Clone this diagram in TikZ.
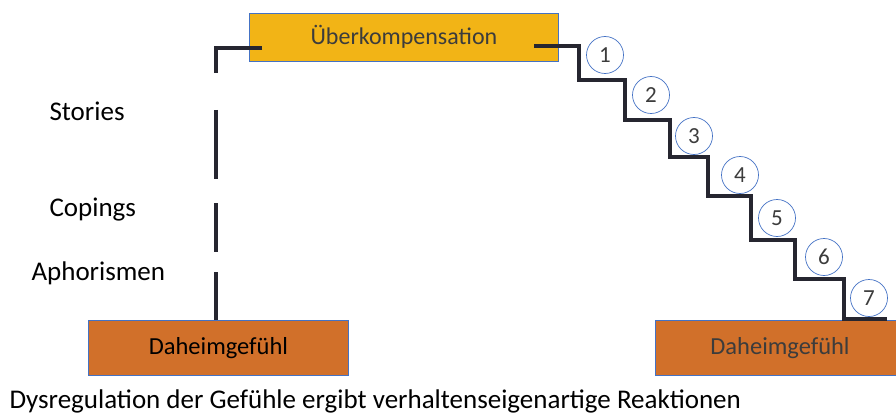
\documentclass[tikz,border=0pt]{standalone}
\usepackage{fontspec}
\setmainfont{Carlito}
\usetikzlibrary{calc}
\definecolor{boxgold}{RGB}{242,180,22}
\definecolor{boxrust}{RGB}{209,112,42}
\definecolor{edgeblue}{RGB}{68,114,196}
\definecolor{stairink}{RGB}{38,38,48}
\definecolor{greytext}{RGB}{60,60,60}
\tikzset{
  panel/.style={draw=edgeblue, line width=0.8pt, inner sep=0pt, anchor=north west},
  stairline/.style={draw=stairink, line width=4.6pt, line join=miter},
  stepnum/.style={circle, draw=edgeblue, line width=0.7pt, minimum size=37pt, inner sep=0pt,
                  font=\fontsize{23}{23}\selectfont, text=greytext},
  sidelabel/.style={font=\fontsize{27}{30}\selectfont, text=black, anchor=west},
}
\begin{document}
\begin{tikzpicture}[x=1pt, y=-1pt]
  \useasboundingbox (0,0) rectangle (896,417);
  \clip (0,0) rectangle (896,417);

  % boxes
  \node[panel, fill=boxgold, minimum width=309pt, minimum height=48pt] (top) at (249,13) {};
  \node[font=\fontsize{24}{26}\selectfont, text=greytext] at ($(top.center)+(0,-1)$) {Überkompensation};

  \node[panel, fill=boxrust, minimum width=260pt, minimum height=55pt] (homeL) at (88,320) {};
  \node[font=\fontsize{24.5}{26}\selectfont, text=black] at (homeL.center) {Daheimgefühl};

  \node[panel, fill=boxrust, minimum width=250pt, minimum height=55pt] (homeR) at (655,320) {};
  \node[font=\fontsize{24.5}{26}\selectfont, text=greytext] at ($(homeR.north west)+(125,28)$) {Daheimgefühl};

  % dashed link on the left
  \coordinate (dl0) at (262,48);
  \coordinate (dl1) at (216,48);
  \coordinate (dl2) at (216,320);
  \draw[stairline, dash pattern=on 71pt off 37pt on 69pt off 24pt on 49pt off 20pt on 60pt]
    (dl0) -- (dl1) -- (dl2);

  % staircase on the right
  \coordinate (st0) at (534,46);
  \coordinate (st1) at (887,319);
  \draw[stairline] (st0) -- (579,46) -- (579,80) -- (625,80) -- (625,120) -- (670,120)
    -- (670,157) -- (708,157) -- (708,196) -- (751,196) -- (751,240) -- (795,240)
    -- (795,279) -- (844,279) -- (844,319) -- (st1);

  % step numbers
  \node[stepnum] (n1) at (605,55) {1};
  \node[stepnum] (n2) at (651,95) {2};
  \node[stepnum] (n3) at (694,136) {3};
  \node[stepnum] (n4) at (740,175) {4};
  \node[stepnum] (n5) at (777,218) {5};
  \node[stepnum] (n6) at (824,257) {6};
  \node[stepnum] (n7) at (869,298) {7};

  % labels on the left
  \node[sidelabel] (stories) at (46,111) {Stories};
  \node[sidelabel] (copings) at (46,210) {Copings};
  \node[sidelabel] (aphor) at (28,273) {Aphorismen};

  % caption
  \node[font=\fontsize{27}{30}\selectfont, text=black, anchor=base west] (caption) at (6,408)
    {Dysregulation der Gefühle ergibt verhaltenseigenartige Reaktionen};
\end{tikzpicture}
\end{document}
